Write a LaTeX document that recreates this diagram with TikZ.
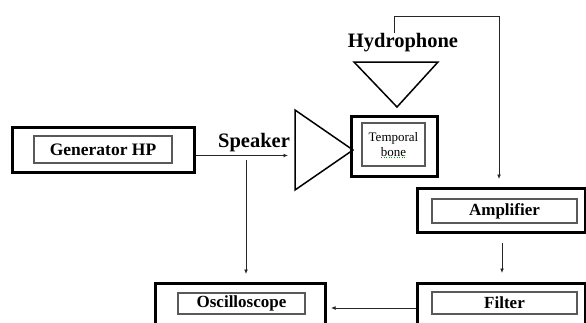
\documentclass[tikz,border=0pt]{standalone}
\usepackage{fontspec}
\setmainfont{Liberation Serif}
\usetikzlibrary{arrows.meta}
\begin{document}
\begin{tikzpicture}[x=1pt,y=-1pt,
  outerbox/.style={draw=black,line width=3pt,minimum width=#1,inner sep=0pt,rectangle},
  innerbox/.style={draw=black!65,line width=1.1pt,inner sep=0pt,rectangle,font=\fontsize{17}{19}\bfseries\selectfont},
  lbl/.style={font=\fontsize{20.5}{22}\bfseries\selectfont,anchor=base,inner sep=0pt},
  conn/.style={line width=1pt,draw=black!85},
  arr/.style={conn,-{Latex[length=4.5pt,width=4pt]}},
  tri/.style={line width=1.5pt,line join=miter}]
\useasboundingbox (0,0) rectangle (586,322);
\clip (0,0) rectangle (586,322);

% Generator
\node[outerbox=182, minimum height=45] (gen) at (103,149.5) {};
\node[innerbox, minimum width=138, minimum height=27, font=\fontsize{17.5}{19}\bfseries\selectfont] (genin) at (gen) {Generator HP};

% Speaker
\coordinate (spkA) at (295,110);
\coordinate (spkB) at (353,150);
\coordinate (spkC) at (295,190);
\draw[tri] (spkA) -- (spkB) -- (spkC) -- cycle;
\node[lbl] (spklbl) at (254,147) {Speaker};

% Temporal bone
\node[outerbox=86, minimum height=60] (tb) at (394,146) {};
\node[innerbox, minimum width=63, minimum height=43, align=center, font=\fontsize{13}{15}\selectfont] (tbin) at (393.5,144.5) {Temporal\\bone};
\draw[green!60!black, line width=0.6pt, dotted] (381,157.5) -- (406,157.5);

% Hydrophone
\coordinate (hA) at (354,62);
\coordinate (hB) at (438,62);
\coordinate (hC) at (397,107);
\draw[tri] (hA) -- (hB) -- (hC) -- cycle;
\node[lbl] (hlbl) at (403,47) {Hydrophone};

% Amplifier
\node[outerbox=168, minimum height=44] (amp) at (501,210) {};
\node[innerbox, minimum width=145, minimum height=24] (ampin) at (504.5,211) {Amplifier};

% Filter
\node[outerbox=168, minimum height=44] (fil) at (501,305) {};
\node[innerbox, minimum width=145, minimum height=22] (filin) at (504.5,303) {Filter};

% Oscilloscope
\node[outerbox=170, minimum height=44] (osc) at (240,305) {};
\node[innerbox, minimum width=127, minimum height=21] (oscin) at (241.5,303.5) {Oscilloscope};

% Connectors
\coordinate (g1) at (gen.east |- 0,155.5);
\coordinate (s1) at (288,155.5);
\draw[arr] (g1) -- (s1);

\coordinate (v1) at (246,160);
\coordinate (v2) at (246,274);
\draw[arr] (v1) -- (v2);

\coordinate (h1) at (394,33);
\coordinate (h2) at (394,16);
\coordinate (h3) at (499,16);
\coordinate (h4) at (499,179);
\draw[arr] (h1) -- (h2) -- (h3) -- (h4);

\coordinate (a1) at (502,243);
\coordinate (a2) at (502,273);
\draw[arr] (a1) -- (a2);

\coordinate (f1) at (fil.west |- 0,308);
\coordinate (o1) at (331,308);
\draw[arr] (f1) -- (o1);
\end{tikzpicture}
\end{document}
